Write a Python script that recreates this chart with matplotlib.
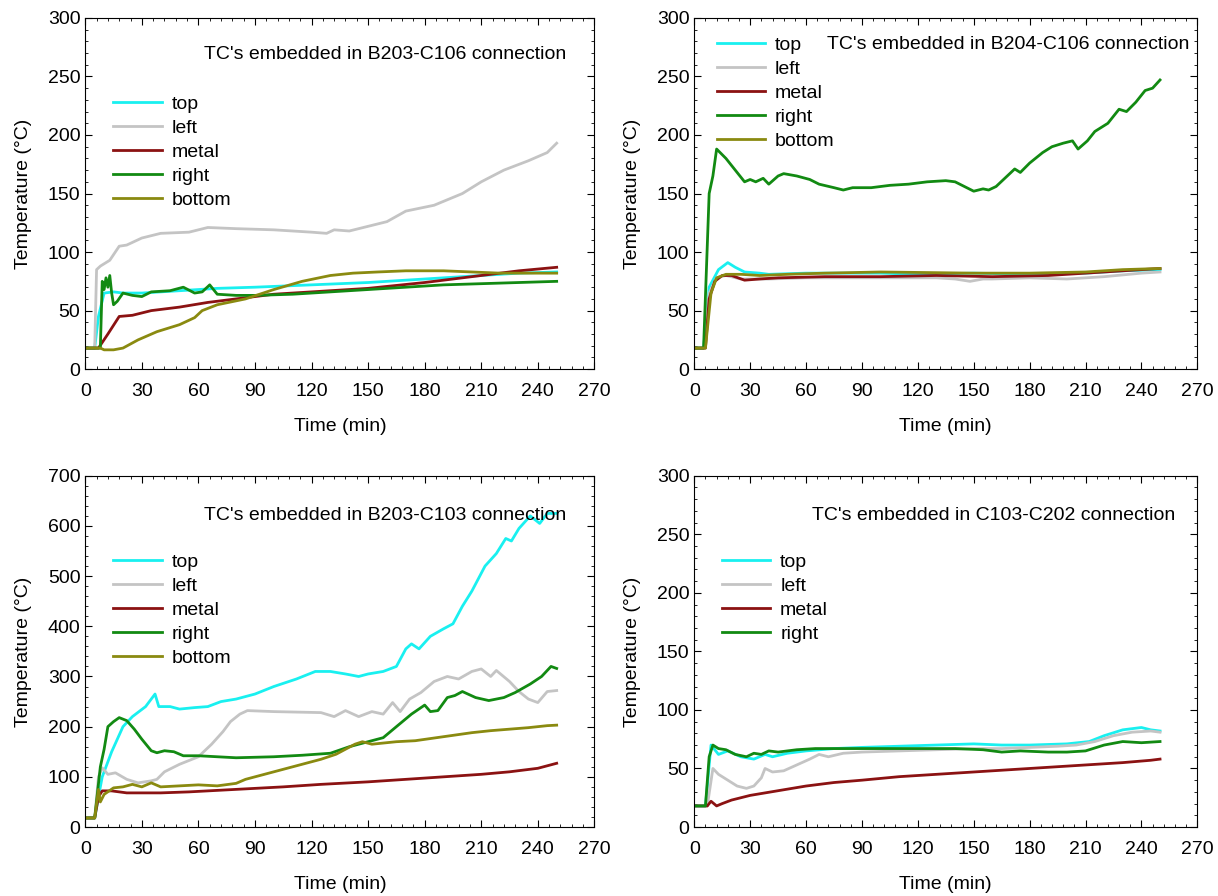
import matplotlib
matplotlib.use('Agg')
import matplotlib.pyplot as plt
from matplotlib.ticker import MultipleLocator

plt.rcParams['font.family'] = ['Liberation Sans', 'DejaVu Sans']

# colours of the thermocouple traces
colors = {'top': '#19F0F0', 'left': '#C4C4C4', 'metal': '#8B1212',
          'right': '#128A12', 'bottom': '#8A8A10'}

# ---- B203-C106 ----
b203c106_top_t = [0, 5, 7, 10, 15, 20, 30, 50, 70, 90, 120, 150, 180, 210, 230, 250]
b203c106_top_v = [18, 18, 45, 65, 66, 65, 65, 67, 69, 70, 72, 74, 77, 80, 82, 83]
b203c106_left_t = [0, 5, 6, 8, 10, 13, 18, 22, 30, 40, 55, 65, 80, 100, 120, 128, 132, 140, 150,
                   160, 170, 185, 200, 210, 222, 235, 245, 250]
b203c106_left_v = [18, 18, 85, 88, 90, 93, 105, 106, 112, 116, 117, 121, 120, 119, 117, 116, 119,
                   118, 122, 126, 135, 140, 150, 160, 170, 178, 185, 193]
b203c106_metal_t = [0, 7, 12, 18, 25, 35, 50, 65, 80, 100, 120, 150, 180, 210, 230, 250]
b203c106_metal_v = [18, 18, 30, 45, 46, 50, 53, 57, 60, 64, 66, 69, 74, 80, 84, 87]
b203c106_right_t = [0, 8, 9, 10, 11, 12, 13, 14, 15, 17, 20, 25, 30, 35, 45, 52, 58, 62, 66, 70,
                    80, 90, 110, 130, 150, 170, 190, 210, 230, 250]
b203c106_right_v = [18, 18, 75, 68, 78, 70, 80, 65, 55, 58, 65, 63, 62, 66, 67, 70, 65, 66, 72,
                    64, 63, 63, 64, 66, 68, 70, 72, 73, 74, 75]
b203c106_bottom_t = [0, 8, 10, 15, 20, 28, 38, 50, 58, 62, 70, 85, 100, 115, 130, 142, 155, 170,
                     190, 205, 220, 250]
b203c106_bottom_v = [18, 18, 16.5, 16.5, 18, 25, 32, 38, 44, 50, 55, 60, 68, 75, 80, 82, 83, 84,
                     84, 83, 82, 82]

# ---- B204-C106 ----
b204c106_top_t = [0, 5, 8, 13, 18, 22, 27, 35, 40, 60, 100, 120, 150, 180, 210, 230, 250]
b204c106_top_v = [18, 18, 70, 85, 91, 87, 83, 82, 81, 82, 82, 81, 82, 81, 82, 84, 85]
b204c106_left_t = [0, 5, 8, 12, 17, 25, 40, 60, 100, 130, 140, 148, 155, 160, 180, 200, 220, 240, 250]
b204c106_left_v = [18, 18, 65, 78, 80, 77, 77, 78, 78, 78, 77, 75, 77, 77, 78, 77, 79, 82, 83]
b204c106_metal_t = [0, 6, 8, 11, 15, 20, 27, 35, 45, 70, 100, 130, 160, 190, 210, 230, 250]
b204c106_metal_v = [18, 18, 60, 75, 80, 80, 76, 77, 78, 79, 79, 80, 79, 80, 82, 84, 86]
b204c106_right_t = [0, 5, 8, 10, 12, 17, 22, 27, 30, 33, 37, 40, 45, 48, 55, 62, 67, 75, 80, 85,
                    95, 105, 115, 125, 135, 140, 145, 150, 155, 158, 162, 168, 172, 175, 180,
                    187, 192, 198, 203, 206, 211, 215, 222, 228, 232, 237, 242, 246, 250]
b204c106_right_v = [18, 18, 150, 165, 188, 180, 170, 160, 162, 160, 163, 158, 165, 167, 165, 162,
                    158, 155, 153, 155, 155, 157, 158, 160, 161, 160, 156, 152, 154, 153, 156,
                    165, 171, 168, 176, 185, 190, 193, 195, 188, 195, 203, 210, 222, 220, 228,
                    238, 240, 247]
b204c106_bottom_t = [0, 6, 9, 12, 17, 25, 35, 50, 70, 100, 150, 180, 210, 230, 250]
b204c106_bottom_v = [18, 18, 65, 78, 81, 81, 80, 81, 82, 83, 82, 82, 83, 85, 86]

# ---- B203-C103 ----
b203c103_top_t = [0, 5, 7, 9, 14, 20, 25, 32, 37, 39, 45, 50, 58, 65, 72, 80, 90, 100, 112, 122,
                  130, 138, 145, 150, 158, 165, 170, 173, 177, 183, 190, 195, 200, 205, 212, 218,
                  223, 226, 230, 236, 241, 245, 250]
b203c103_top_v = [18, 18, 60, 100, 150, 200, 220, 240, 265, 240, 240, 235, 238, 240, 250, 255,
                  265, 280, 295, 310, 310, 305, 300, 305, 310, 320, 355, 365, 355, 380, 395, 405,
                  440, 470, 520, 545, 575, 570, 595, 620, 605, 625, 625]
b203c103_left_t = [0, 5, 7, 9, 12, 16, 22, 28, 35, 38, 42, 50, 60, 67, 73, 77, 82, 86, 100, 125,
                   132, 138, 145, 152, 158, 163, 167, 172, 178, 185, 192, 198, 205, 210, 215, 218,
                   225, 230, 235, 240, 245, 250]
b203c103_left_v = [18, 18, 100, 118, 105, 108, 95, 88, 92, 95, 110, 125, 140, 165, 190, 210, 225,
                   232, 230, 228, 220, 232, 220, 230, 225, 248, 230, 255, 268, 290, 300, 295, 310,
                   315, 300, 312, 290, 270, 255, 248, 270, 272]
b203c103_metal_t = [0, 5, 7, 9, 14, 22, 40, 55, 70, 85, 105, 125, 150, 170, 190, 210, 225, 240, 250]
b203c103_metal_v = [18, 18, 60, 72, 72, 68, 68, 70, 73, 76, 80, 85, 90, 95, 100, 105, 110, 117, 127]
b203c103_right_t = [0, 5, 8, 10, 12, 15, 18, 22, 26, 30, 35, 38, 42, 47, 52, 60, 70, 80, 100, 115,
                    130, 140, 150, 158, 165, 173, 180, 183, 187, 192, 196, 200, 207, 214, 222,
                    228, 236, 242, 247, 250]
b203c103_right_v = [18, 18, 120, 155, 200, 210, 218, 212, 195, 175, 152, 148, 152, 150, 142, 142,
                    140, 138, 140, 143, 147, 160, 170, 178, 200, 225, 243, 230, 232, 258, 262,
                    270, 258, 252, 258, 268, 285, 300, 320, 316]
b203c103_bottom_t = [0, 5, 7, 8, 10, 15, 20, 25, 30, 35, 40, 50, 60, 70, 80, 85, 95, 105, 115,
                     125, 133, 143, 147, 152, 165, 175, 190, 205, 215, 225, 235, 245, 250]
b203c103_bottom_v = [18, 18, 75, 50, 65, 78, 80, 85, 80, 88, 80, 82, 84, 82, 87, 95, 105, 115,
                     125, 135, 145, 165, 170, 165, 170, 172, 180, 188, 192, 195, 198, 202, 203]

# ---- C103-C202 ----
c103c202_top_t = [0, 6, 9, 13, 18, 25, 32, 38, 42, 50, 60, 75, 90, 110, 130, 150, 165, 180, 200,
                  212, 220, 230, 240, 245, 250]
c103c202_top_v = [18, 18, 70, 62, 65, 60, 58, 62, 60, 63, 65, 67, 68, 69, 70, 71, 70, 70, 71,
                  73, 78, 83, 85, 83, 82]
c103c202_left_t = [0, 7, 10, 13, 18, 23, 28, 32, 36, 38, 42, 48, 55, 62, 67, 72, 80, 90, 110,
                   130, 150, 165, 180, 195, 205, 215, 225, 235, 245, 250]
c103c202_left_v = [18, 18, 50, 45, 40, 35, 33, 35, 42, 50, 47, 48, 53, 58, 62, 60, 63, 64, 65,
                   66, 67, 67, 68, 69, 70, 73, 78, 81, 82, 81]
c103c202_metal_t = [0, 7, 9, 12, 15, 20, 30, 45, 60, 75, 90, 110, 130, 150, 170, 190, 210, 230,
                    245, 250]
c103c202_metal_v = [18, 18, 22, 18, 20, 23, 27, 31, 35, 38, 40, 43, 45, 47, 49, 51, 53, 55, 57, 58]
c103c202_right_t = [0, 6, 8, 10, 13, 17, 22, 28, 32, 36, 40, 45, 55, 65, 80, 100, 120, 140, 155,
                    165, 175, 190, 200, 210, 220, 230, 240, 250]
c103c202_right_v = [18, 18, 60, 70, 67, 66, 62, 60, 63, 62, 65, 64, 66, 67, 67, 67, 67, 67, 66,
                    64, 65, 64, 64, 65, 70, 73, 72, 73]

panels = [
    ("TC's embedded in B203-C106 connection", 300, 50,
     [('top', b203c106_top_t, b203c106_top_v), ('left', b203c106_left_t, b203c106_left_v),
      ('metal', b203c106_metal_t, b203c106_metal_v), ('right', b203c106_right_t, b203c106_right_v),
      ('bottom', b203c106_bottom_t, b203c106_bottom_v)]),
    ("TC's embedded in B204-C106 connection", 300, 50,
     [('top', b204c106_top_t, b204c106_top_v), ('left', b204c106_left_t, b204c106_left_v),
      ('metal', b204c106_metal_t, b204c106_metal_v), ('right', b204c106_right_t, b204c106_right_v),
      ('bottom', b204c106_bottom_t, b204c106_bottom_v)]),
    ("TC's embedded in B203-C103 connection", 700, 100,
     [('top', b203c103_top_t, b203c103_top_v), ('left', b203c103_left_t, b203c103_left_v),
      ('metal', b203c103_metal_t, b203c103_metal_v), ('right', b203c103_right_t, b203c103_right_v),
      ('bottom', b203c103_bottom_t, b203c103_bottom_v)]),
    ("TC's embedded in C103-C202 connection", 300, 50,
     [('top', c103c202_top_t, c103c202_top_v), ('left', c103c202_left_t, c103c202_left_v),
      ('metal', c103c202_metal_t, c103c202_metal_v), ('right', c103c202_right_t, c103c202_right_v)]),
]

# axes rectangles in figure fractions, plus title and legend placement
rects = [[0.070, 0.588, 0.418, 0.392], [0.570, 0.588, 0.413, 0.392],
         [0.070, 0.077, 0.418, 0.392], [0.570, 0.077, 0.413, 0.392]]
title_pos = [(0.945, 0.895), (0.985, 0.925), (0.945, 0.888), (0.956, 0.888)]
legend_pos = [(0.02, 0.83), (0.01, 0.998), (0.02, 0.83), (0.02, 0.83)]

fig = plt.figure(figsize=(12.18, 8.96), dpi=100)

for i, (title, ymax, ystep, series) in enumerate(panels):
    ax = fig.add_axes(rects[i])
    for name, t, v in series:
        ax.plot(t, v, color=colors[name], lw=2, label=name)
    ax.set_xlim(0, 270)
    ax.set_ylim(0, ymax)
    ax.xaxis.set_major_locator(MultipleLocator(30))
    ax.xaxis.set_minor_locator(MultipleLocator(6))
    ax.yaxis.set_major_locator(MultipleLocator(ystep))
    ax.yaxis.set_minor_locator(MultipleLocator(ystep / 5))
    ax.tick_params(which='both', direction='in', top=True, right=True, labelsize=14)
    ax.tick_params(axis='x', which='major', pad=10)
    ax.tick_params(which='major', length=5)
    ax.tick_params(which='minor', length=2.5)
    ax.set_xlabel('Time (min)', fontsize=14, labelpad=13)
    ax.set_ylabel('Temperature (°C)', fontsize=14, labelpad=11)
    ax.text(title_pos[i][0], title_pos[i][1], title, transform=ax.transAxes,
            ha='right', va='center', fontsize=14)
    ax.legend(loc='upper left', bbox_to_anchor=legend_pos[i], frameon=False,
              fontsize=14, handlelength=2.5, labelspacing=0.33, handletextpad=0.5)

fig.savefig('out.png', dpi=100)
